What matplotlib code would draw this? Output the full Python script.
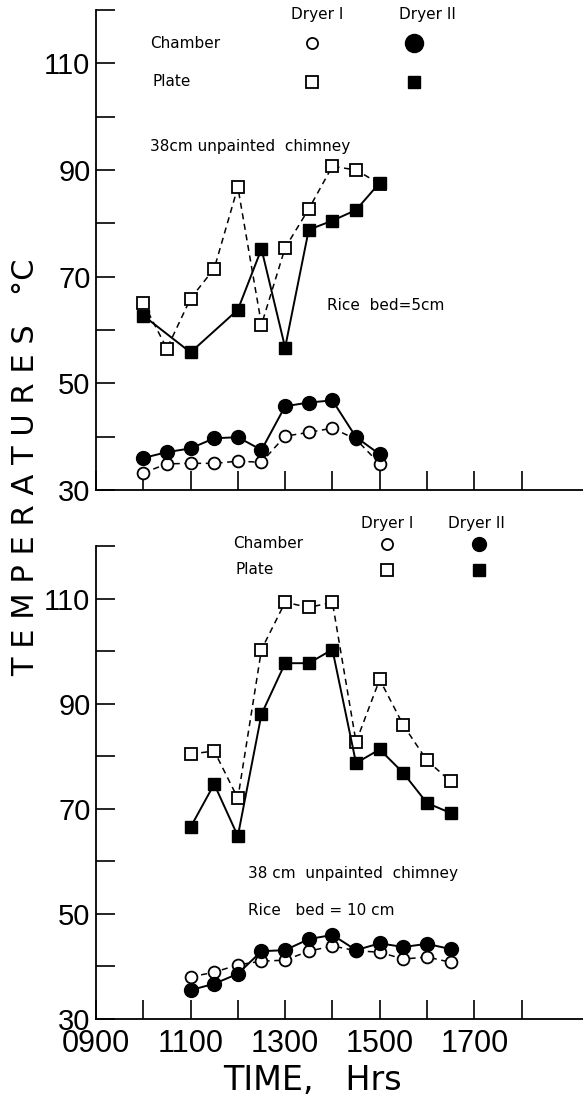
import matplotlib
matplotlib.use("Agg")
from matplotlib import pyplot as plt
from matplotlib.lines import Line2D

# times in decimal hours (10.5 = 10:30 hrs)
# --- upper chart: rice bed 5 cm ---
time_5cm = [10.0, 10.5, 11.0, 11.5, 12.0, 12.5, 13.0, 13.5, 14.0, 14.5, 15.0]
chamber1_5cm = [33.2, 34.9, 35.0, 35.0, 35.4, 35.2, 40.1, 40.8, 41.6, 39.5, 34.9]
chamber2_5cm = [36.0, 37.1, 37.8, 39.7, 39.9, 37.5, 45.7, 46.4, 46.8, 39.9, 36.7]
plate1_5cm = [65.1, 56.5, 65.9, 71.5, 86.8, 61.0, 75.4, 82.7, 90.7, 90.0, 87.4]
time_plate2_5cm = [10.0, 11.0, 12.0, 12.5, 13.0, 13.5, 14.0, 14.5, 15.0]
plate2_5cm = [62.7, 55.8, 63.8, 75.2, 56.7, 78.8, 80.5, 82.5, 87.6]

# --- lower chart: rice bed 10 cm ---
time_10cm = [11.0, 11.5, 12.0, 12.5, 13.0, 13.5, 14.0, 14.5, 15.0, 15.5, 16.0, 16.5]
chamber1_10cm = [38.0, 38.9, 40.3, 41.0, 41.2, 42.9, 43.9, 43.0, 42.7, 41.4, 41.8, 40.8]
chamber2_10cm = [35.5, 36.7, 38.6, 42.9, 43.1, 45.2, 46.0, 43.1, 44.4, 43.7, 44.3, 43.3]
plate1_10cm = [80.4, 81.0, 72.0, 100.3, 109.3, 108.3, 109.3, 82.7, 94.6, 85.9, 79.2, 75.2]
plate2_10cm = [66.5, 74.7, 64.8, 88.0, 97.7, 97.7, 100.3, 78.7, 81.3, 76.8, 71.1, 69.2]

xticks_major = [9, 11, 13, 15, 17]
xticklabels = ["0900", "1100", "1300", "1500", "1700"]
xticks_minor = [10, 12, 14, 16, 18]
yticks_major = [30, 50, 70, 90, 110]
yticks_minor = [40, 60, 80, 100, 120]

num_font = ["Liberation Sans", "DejaVu Sans"]
txt_font = ["DejaVu Sans"]
dash = (0, (4, 3))

fig = plt.figure(figsize=(5.83, 11.05), dpi=100)
ax1 = fig.add_axes([96 / 583, 1 - 490 / 1105, 487 / 583, 480 / 1105])
ax2 = fig.add_axes([96 / 583, 1 - 1019 / 1105, 487 / 583, 473 / 1105])


def style_axis(ax, show_xlabels):
    ax.set_xlim(9, 19.3)
    ax.set_ylim(30, 120)
    for s in ["top", "right"]:
        ax.spines[s].set_visible(False)
    for s in ["left", "bottom"]:
        ax.spines[s].set_linewidth(1.3)
    ax.set_xticks(xticks_major)
    ax.set_xticks(xticks_minor, minor=True)
    ax.set_yticks(yticks_major)
    ax.set_yticks(yticks_minor, minor=True)
    ax.tick_params(which="both", direction="in", length=14, width=1.2)
    ax.tick_params(axis="y", pad=4)
    ax.tick_params(axis="x", pad=7)
    ax.set_yticklabels([str(v) for v in yticks_major], family=num_font, fontsize=21)
    if show_xlabels:
        ax.set_xticklabels(xticklabels, family=num_font, fontsize=22)
    else:
        ax.set_xticklabels([])


def draw_series(ax, t1, c1, c2, tp1, p1, tp2, p2):
    ax.plot(t1, c1, color="black", lw=1.1, ls=dash, marker="o", ms=8.5,
            mfc="white", mec="black", mew=1.3, zorder=3)
    ax.plot(tp1, p1, color="black", lw=1.1, ls=dash, marker="s", ms=8.5,
            mfc="white", mec="black", mew=1.3, zorder=3)
    ax.plot(t1, c2, color="black", lw=1.4, marker="o", ms=10,
            mfc="black", mec="black", zorder=4)
    ax.plot(tp2, p2, color="black", lw=1.4, marker="s", ms=9,
            mfc="black", mec="black", zorder=4)


def key(ax, anchor, colspace, rowspace, big_dot):
    handles = [
        Line2D([], [], ls="none", marker="o", ms=8, mfc="white", mec="black", mew=1.3),
        Line2D([], [], ls="none", marker="s", ms=8, mfc="white", mec="black", mew=1.3),
        Line2D([], [], ls="none", marker="o", ms=big_dot, mfc="black", mec="black"),
        Line2D([], [], ls="none", marker="s", ms=8.5, mfc="black", mec="black"),
    ]
    ax.legend(handles, ["", "", "", ""], ncol=2, loc="upper left",
              bbox_to_anchor=anchor, frameon=False, borderpad=0,
              borderaxespad=0, handlelength=1.0, handletextpad=0,
              columnspacing=colspace, labelspacing=rowspace,
              prop={"size": 10})


# upper chart
draw_series(ax1, time_5cm, chamber1_5cm, chamber2_5cm, time_5cm, plate1_5cm,
            time_plate2_5cm, plate2_5cm)
style_axis(ax1, False)
key(ax1, (0.429, 0.943), 6.34, 1.73, 13)
ax1.text(0.454, 0.990, "Dryer I", transform=ax1.transAxes, ha="center",
         va="center", fontsize=11, family=txt_font)
ax1.text(0.680, 0.990, "Dryer II", transform=ax1.transAxes, ha="center",
         va="center", fontsize=11, family=txt_font)
ax1.text(0.111, 0.931, "Chamber", transform=ax1.transAxes, va="center",
         fontsize=11, family=txt_font)
ax1.text(0.115, 0.852, "Plate", transform=ax1.transAxes, va="center",
         fontsize=11, family=txt_font)
ax1.text(0.111, 0.715, "38cm unpainted  chimney", transform=ax1.transAxes,
         va="center", fontsize=11, family=txt_font)
ax1.text(0.474, 0.385, "Rice  bed=5cm", transform=ax1.transAxes,
         va="center", fontsize=11, family=txt_font)

# lower chart
draw_series(ax2, time_10cm, chamber1_10cm, chamber2_10cm, time_10cm,
            plate1_10cm, time_10cm, plate2_10cm)
style_axis(ax2, True)
key(ax2, (0.583, 1.018), 5.62, 0.87, 10)
ax2.text(0.598, 1.047, "Dryer I", transform=ax2.transAxes, ha="center",
         va="center", fontsize=11, family=txt_font, clip_on=False)
ax2.text(0.782, 1.047, "Dryer II", transform=ax2.transAxes, ha="center",
         va="center", fontsize=11, family=txt_font, clip_on=False)
ax2.text(0.281, 1.006, "Chamber", transform=ax2.transAxes, va="center",
         fontsize=11, family=txt_font, clip_on=False)
ax2.text(0.287, 0.951, "Plate", transform=ax2.transAxes, va="center",
         fontsize=11, family=txt_font)
ax2.text(0.312, 0.307, "38 cm  unpainted  chimney", transform=ax2.transAxes,
         va="center", fontsize=11, family=txt_font)
ax2.text(0.312, 0.230, "Rice   bed = 10 cm", transform=ax2.transAxes,
         va="center", fontsize=11, family=txt_font)

fig.text(26 / 583, 0.577, "T E M P E R A T U R E S   \u00b0C", rotation=90,
         ha="center", va="center", fontsize=22, family=txt_font)
fig.text(312 / 583, 1 - 1081 / 1105, "TIME,   Hrs", ha="center",
         va="center", fontsize=24, family=txt_font)

fig.savefig("out.png", dpi=100)
